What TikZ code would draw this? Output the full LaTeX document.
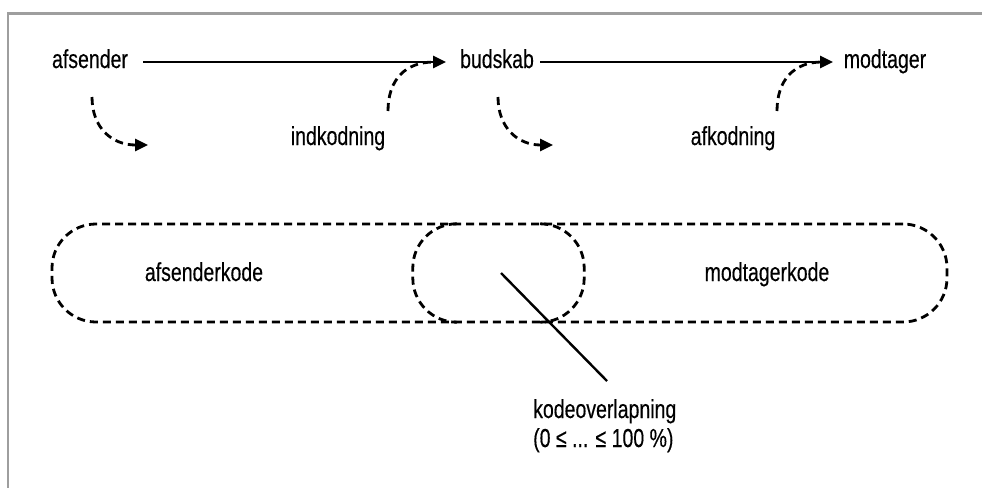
\documentclass[tikz,border=0pt]{standalone}
\usepackage{fontspec}
\setmainfont{Liberation Sans}[FakeStretch=0.75, FakeBold=0.3]
\usetikzlibrary{arrows.meta}
\begin{document}
\begin{tikzpicture}[x=1pt,y=-1pt,
  lbl/.style={font=\fontsize{26}{29}\selectfont, inner sep=0pt, anchor=base},
  mainarrow/.style={line width=2.8pt, -{Triangle[length=13pt,width=12pt]}},
  dasharrow/.style={line width=2.8pt, dash pattern=on 8pt off 5pt, -{Triangle[length=13pt,width=12pt]}},
  dashcurve/.style={line width=2.8pt, dash pattern=on 8pt off 5pt},
  oval/.style={draw, line width=2.8pt, dash pattern=on 8pt off 5pt, rounded corners=44pt, inner sep=0pt},
  frameline/.style={draw=black!38, line width=2.2pt}
]
\useasboundingbox (0,0) rectangle (982,488);
\draw[frameline] (982,13.5) -- (8,13.5) -- (8,488);

% top row
\node[lbl] (afsender) at (90,68) {afsender};
\node[lbl] (budskab) at (497,68) {budskab};
\node[lbl] (modtager) at (885,68) {modtager};
\node[lbl] (indkodning) at (338,145) {indkodning};
\node[lbl] (afkodning) at (733,145) {afkodning};

\coordinate (a1s) at (143,62);
\coordinate (a1e) at (446,62);
\coordinate (a2s) at (540,62);
\coordinate (a2e) at (833,62);
\draw[mainarrow] (a1s) -- (a1e);
\draw[mainarrow] (a2s) -- (a2e);

% dashed curved arrows
\coordinate (d1s) at (92,97);
\coordinate (d1e) at (148,145);
\draw[dasharrow] (d1s) .. controls (92,128) and (112,145) .. (d1e);
\coordinate (d2s) at (388,111);
\coordinate (d2e) at (434,62);
\draw[dashcurve] (d2s) .. controls (388,80) and (405,62) .. (d2e);
\coordinate (d3s) at (498,97);
\coordinate (d3e) at (553,145);
\draw[dasharrow] (d3s) .. controls (498,128) and (518,145) .. (d3e);
\coordinate (d4s) at (777,111);
\coordinate (d4e) at (822,62);
\draw[dashcurve] (d4s) .. controls (777,80) and (794,62) .. (d4e);

% ovals
\node[oval, minimum width=895pt, minimum height=98pt] (bigoval) at (499.5,273) {};
\node[inner sep=0pt, minimum width=171pt, minimum height=98pt] (smalloval) at (498.5,273) {};
\draw[dashcurve, rounded corners=44pt]
  (smalloval.north west) ++(44,0) -- (smalloval.north west) -- (smalloval.south west) -- ++(44,0);
\draw[dashcurve, rounded corners=44pt]
  (smalloval.north east) ++(-44,0) -- (smalloval.north east) -- (smalloval.south east) -- ++(-44,0);
\node[lbl] (afsenderkode) at (204,281) {afsenderkode};
\node[lbl] (modtagerkode) at (767,281) {modtagerkode};

% overlap label
\node[font=\fontsize{26}{29}\selectfont, inner sep=0pt, align=left, anchor=base west] (overlap) at (533,447)
  {kodeoverlapning\\(0 ≤ ... ≤ 100 \%)};
\coordinate (ls) at (501,273);
\coordinate (le) at (607,381);
\draw[line width=2.4pt] (ls) -- (le);
\end{tikzpicture}
\end{document}
